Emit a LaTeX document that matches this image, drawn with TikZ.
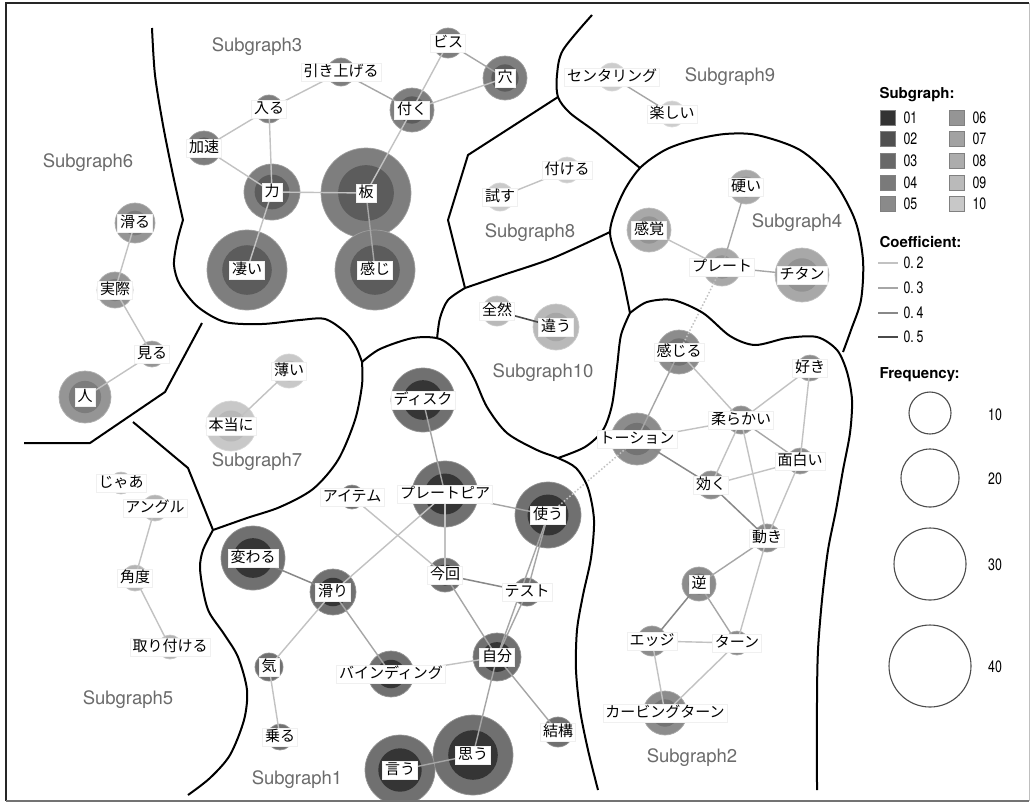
\documentclass[tikz,border=0pt]{standalone}
\usepackage{fontspec}
\newfontfamily\jp{Noto Sans CJK JP}
\newfontfamily\hv{TeX Gyre Heros}
\newfontfamily\hvn[FakeStretch=0.75]{TeX Gyre Heros}
\pgfdeclarelayer{bgl}
\pgfdeclarelayer{circ}
\pgfdeclarelayer{edgelayer}
\pgfsetlayers{bgl,circ,edgelayer,main}
\definecolor{aO}{HTML}{707070}\definecolor{aI}{HTML}{353535}
\definecolor{bO}{HTML}{8C8C8C}\definecolor{bI}{HTML}{737373}
\definecolor{cO}{HTML}{7E7E7E}\definecolor{cI}{HTML}{5C5C5C}
\definecolor{dO}{HTML}{A8A8A8}\definecolor{dI}{HTML}{939393}
\definecolor{eO}{HTML}{B4B4B4}\definecolor{eI}{HTML}{A5A5A5}
\definecolor{fO}{HTML}{959595}\definecolor{fI}{HTML}{7C7C7C}
\definecolor{gO}{HTML}{C8C8C8}\definecolor{gI}{HTML}{B8B8B8}
\definecolor{hO}{HTML}{CACACA}\definecolor{hI}{HTML}{BDBDBD}
\definecolor{iO}{HTML}{CDCDCD}\definecolor{iI}{HTML}{C0C0C0}
\definecolor{jO}{HTML}{B9B9B9}\definecolor{jI}{HTML}{A6A6A6}
\definecolor{sgtext}{HTML}{6B6B6B}
\definecolor{L1}{HTML}{333333}\definecolor{L2}{HTML}{505050}
\definecolor{L3}{HTML}{686868}\definecolor{L4}{HTML}{7A7A7A}
\definecolor{L5}{HTML}{8A8A8A}\definecolor{L6}{HTML}{959595}
\definecolor{L7}{HTML}{A2A2A2}\definecolor{L8}{HTML}{ACACAC}
\definecolor{L9}{HTML}{BABABA}\definecolor{L10}{HTML}{C8C8C8}
\definecolor{E2}{HTML}{C2C2C2}\definecolor{E3}{HTML}{A6A6A6}
\definecolor{E4}{HTML}{888888}\definecolor{E5}{HTML}{4A4A4A}
\tikzset{
  lab/.style={fill=white, draw=gray!12, line width=0.4pt, inner xsep=2.5pt, inner ysep=2pt,
    font=\jp\fontsize{15}{15}\selectfont, text height=11.5pt, text depth=2.5pt},
  sg/.style={font=\hv\fontsize{18.5}{18.5}\selectfont, text=sgtext},
  bd/.style={line width=2pt, black, line join=round},
  e2/.style={draw=E2, line width=1.4pt},
  e3/.style={draw=E3, line width=1.4pt},
  e4/.style={draw=E4, line width=1.5pt},
  e5/.style={draw=E5, line width=1.6pt},
  dot/.style={draw=E2, line width=1.5pt, dotted},
  hdr/.style={font=\hv\bfseries\fontsize{15}{15}\selectfont, anchor=west},
  num/.style={font=\hvn\fontsize{16.5}{16.5}\selectfont, anchor=west},
  sq/.style={draw=gray, line width=0.6pt, minimum size=15pt, inner sep=0pt},
  fq/.style={circle, draw=black!70, line width=1.1pt, fill=white, inner sep=0pt}
}
\newcommand\wn[6]{%
  \begin{pgfonlayer}{circ}
  \begin{scope}
    \clip (6,3) rectangle (1029,799);
    \node[circle, inner sep=0pt, minimum size={2*#4pt}, fill=#5O, draw=#5O!75!white, line width=0.7pt] (#1) at (#2,#3) {};
    \fill[#5I] (#1.center) circle[radius={0.62*#4pt}];
  \end{scope}
  \end{pgfonlayer}
  \node[lab] (#1l) at (#2,#3) {#6};}
\newcommand\ed[3]{\begin{pgfonlayer}{edgelayer}\draw[#1] (#2.center) -- (#3.center);\end{pgfonlayer}}
\begin{document}
\begin{tikzpicture}[x=1pt,y=-1pt]
\useasboundingbox (0,0) rectangle (1032,804);
\begin{pgfonlayer}{bgl}
\fill[white] (0,0) rectangle (1032,804);
\end{pgfonlayer}
% ---------- boundaries ----------
\draw[bd] plot[smooth, tension=0.5] coordinates {(152,28) (155,75) (163,125) (173,175) (183,220)};
\draw[bd] plot[smooth, tension=0.5] coordinates {(183,220) (177,242) (174,265) (180,285) (198,307) (225,322) (262,324) (300,320) (325,319) (345,332) (356,347) (362,362)};
\draw[bd] (202,323) -- (165,392) -- (90,443) -- (24,443);
\draw[bd] (133,422) -- (188,468) -- (213,530);
\draw[bd] plot[smooth, tension=0.5] coordinates {(362,362) (362,385) (355,420) (338,460) (313,489) (280,507) (247,518) (213,530)};
\draw[bd] plot[smooth, tension=0.5] coordinates {(213,530) (203,550) (200,567) (203,590) (209,612) (224,634) (238,657) (247,690) (244,720) (230,755) (210,778) (188,795)};
\draw[bd] plot[smooth, tension=0.5] coordinates {(362,362) (380,349) (413,338) (440,339) (460,355) (474,378) (487,407) (507,433) (537,450) (558,458) (576,468) (588,488) (594,520) (591,558) (583,595) (577,630) (576,670) (580,710) (588,750) (598,790)};
\draw[bd] plot[smooth, tension=0.5] coordinates {(558,458) (585,447) (603,430) (612,405) (617,367) (621,335) (630,313)};
\draw[bd] plot[smooth, tension=0.5] coordinates {(630,313) (647,302) (673,300) (703,313) (730,336) (755,345) (787,338) (817,337) (837,350) (847,372) (852,400) (850,433) (843,470) (836,510) (828,550) (822,600) (818,650) (817,700) (817,790)};
\draw[bd] plot[smooth, tension=0.5] coordinates {(630,313) (621,270) (610,232) (622,195) (640,168) (665,150) (693,140) (725,134) (757,135) (800,150) (833,180) (855,220) (863,260) (861,300) (851,330) (843,352)};
\draw[bd] plot[smooth, tension=0.5] coordinates {(465,288) (503,275) (553,258) (610,232)};
\draw[bd] (558,97) -- (468,155) -- (448,220) -- (465,288);
\draw[bd] plot[smooth, tension=0.5] coordinates {(465,288) (448,300) (440,318) (437,339)};
\draw[bd] plot[smooth, tension=0.5] coordinates {(592,15) (563,50) (557,75) (558,97) (570,113) (597,133) (640,168)};
% ---------- subgraph labels ----------
\node[sg] (sg3) at (257,47) {Subgraph3};
\node[sg] (sg6) at (88,163) {Subgraph6};
\node[sg] (sg9) at (730,77) {Subgraph9};
\node[sg] (sg8) at (530,233) {Subgraph8};
\node[sg] (sg4) at (797,223) {Subgraph4};
\node[sg] (sg10) at (543,373) {Subgraph10};
\node[sg] (sg7) at (257,462) {Subgraph7};
\node[sg] (sg5) at (128,700) {Subgraph5};
\node[sg] (sg1) at (297,780) {Subgraph1};
\node[sg] (sg2) at (692,758) {Subgraph2};
% ---------- subgraph 1 ----------
\wn{disk}{423}{400}{32}{a}{ディスク}
\wn{ppia}{445}{494}{33}{a}{プレートピア}
\wn{tsukau}{548}{515}{33}{a}{使う}
\wn{kawaru}{253}{558}{32}{a}{変わる}
\wn{suberi}{333}{592}{23}{a}{滑り}
\wn{konkai}{445}{575}{17}{a}{今回}
\wn{test}{527}{592}{14}{a}{テスト}
\wn{item}{352}{497}{12}{a}{アイテム}
\wn{jibun}{497}{657}{24}{a}{自分}
\wn{bind}{391}{674}{23}{a}{バインディング}
\wn{ki}{269}{667}{14}{a}{気}
\wn{noru}{280}{737}{13}{a}{乗る}
\wn{omou}{473}{755}{40}{a}{思う}
\wn{iu}{400}{770}{35}{a}{言う}
\wn{kekko}{558}{732}{15}{a}{結構}
% ---------- subgraph 2 ----------
\wn{kanjiru}{679}{352}{22}{b}{感じる}
\wn{torsion}{637}{439}{26}{b}{トーション}
\wn{yawa}{741}{420}{14}{b}{柔らかい}
\wn{suki}{810}{368}{13}{b}{好き}
\wn{omoshiroi}{800}{461}{13}{b}{面白い}
\wn{kiku}{711}{485}{14}{b}{効く}
\wn{ugoki}{767}{538}{14}{b}{動き}
\wn{gyaku}{699}{584}{17}{b}{逆}
\wn{edj}{652}{641}{15}{b}{エッジ}
\wn{turn}{737}{643}{12}{b}{ターン}
\wn{carving}{665}{713}{22}{b}{カービングターン}
% ---------- subgraph 3 ----------
\wn{chikara}{272}{192}{28}{c}{力}
\wn{ita}{366}{193}{45}{c}{板}
\wn{sugoi}{247}{270}{40}{c}{凄い}
\wn{kanji}{375}{270}{40}{c}{感じ}
\wn{kasoku}{204}{148}{17}{c}{加速}
\wn{hairu}{269}{109}{14}{c}{入る}
\wn{hiki}{341}{72}{14}{c}{引き上げる}
\wn{tsuku}{412}{110}{22}{c}{付く}
\wn{bisu}{448}{43}{15}{c}{ビス}
\wn{ana}{505}{78}{22}{c}{穴}
% ---------- subgraph 4 ----------
\wn{katai}{746}{187}{17}{d}{硬い}
\wn{kankaku}{649}{230}{22}{d}{感覚}
\wn{plate}{722}{267}{19}{d}{プレート}
\wn{titan}{802}{275}{27}{d}{チタン}
% ---------- subgraph 5 ----------
\wn{jaa}{121}{483}{11}{e}{じゃあ}
\wn{angle}{155}{508}{13}{e}{アングル}
\wn{kakudo}{135}{578}{13}{e}{角度}
\wn{toritsu}{170}{647}{12}{e}{取り付ける}
% ---------- subgraph 6 ----------
\wn{suberu}{135}{223}{20}{f}{滑る}
\wn{jissai}{115}{290}{18}{f}{実際}
\wn{miru}{152}{354}{13}{f}{見る}
\wn{hito}{85}{397}{26}{f}{人}
% ---------- subgraph 7 ----------
\wn{usui}{289}{371}{17}{g}{薄い}
\wn{hontou}{231}{426}{25}{g}{本当に}
% ---------- subgraph 8, 9, 10 ----------
\wn{tamesu}{500}{197}{14}{h}{試す}
\wn{tsukeru}{567}{170}{13}{h}{付ける}
\wn{center}{612}{77}{14}{i}{センタリング}
\wn{tanoshii}{672}{114}{13}{i}{楽しい}
\wn{zenzen}{497}{311}{15}{j}{全然}
\wn{chigau}{556}{327}{23}{j}{違う}
% ---------- edges ----------
\ed{e2}{kasoku}{hairu}
\ed{e2}{hairu}{hiki}
\ed{e2}{hairu}{chikara}
\ed{e2}{kasoku}{chikara}
\ed{e2}{chikara}{ita}
\ed{e2}{chikara}{sugoi}
\ed{e3}{ita}{kanji}
\ed{e3}{hiki}{tsuku}
\ed{e2}{tsuku}{bisu}
\ed{e3}{bisu}{ana}
\ed{e2}{tsuku}{ana}
\ed{e2}{tsuku}{ita}
\ed{e2}{suberu}{jissai}
\ed{e2}{jissai}{miru}
\ed{e2}{miru}{hito}
\ed{e2}{hontou}{usui}
\ed{e2}{angle}{kakudo}
\ed{e2}{kakudo}{toritsu}
\ed{e2}{tamesu}{tsukeru}
\ed{e3}{center}{tanoshii}
\ed{e5}{zenzen}{chigau}
\ed{e3}{katai}{plate}
\ed{e2}{kankaku}{plate}
\ed{e3}{plate}{titan}
\ed{dot}{plate}{kanjiru}
\ed{e3}{disk}{ppia}
\ed{e2}{ppia}{konkai}
\ed{e3}{ppia}{tsukau}
\ed{e2}{ppia}{suberi}
\ed{e2}{item}{konkai}
\ed{e4}{konkai}{test}
\ed{e3}{konkai}{jibun}
\ed{e3}{tsukau}{test}
\ed{e3}{tsukau}{jibun}
\ed{e3}{test}{jibun}
\ed{e4}{kawaru}{suberi}
\ed{e2}{suberi}{ki}
\ed{e3}{suberi}{bind}
\ed{e2}{ki}{noru}
\ed{e2}{bind}{jibun}
\ed{e3}{jibun}{omou}
\ed{e3}{jibun}{kekko}
\ed{e3}{omou}{iu}
\ed{dot}{tsukau}{torsion}
\ed{e3}{kanjiru}{torsion}
\ed{e2}{kanjiru}{yawa}
\ed{e2}{torsion}{yawa}
\ed{e4}{torsion}{kiku}
\ed{e2}{yawa}{suki}
\ed{e3}{yawa}{omoshiroi}
\ed{e2}{yawa}{kiku}
\ed{e2}{yawa}{ugoki}
\ed{e2}{suki}{omoshiroi}
\ed{e2}{omoshiroi}{kiku}
\ed{e2}{omoshiroi}{ugoki}
\ed{e4}{kiku}{ugoki}
\ed{e3}{ugoki}{gyaku}
\ed{e2}{ugoki}{turn}
\ed{e4}{gyaku}{edj}
\ed{e3}{gyaku}{turn}
\ed{e2}{edj}{turn}
\ed{e2}{edj}{carving}
\ed{e2}{turn}{carving}
% ---------- legend ----------
\node[hdr] (lsg) at (876,95) {Subgraph:};
\foreach \i/\y in {1/117.5,2/139,3/160.5,4/182.5,5/204}{
  \node[sq, fill=L\i] (sqa\i) at (887.5,\y) {};
  \node[num] (sqat\i) at (900,\y) {0\i};
}
\foreach \i/\y in {6/117.5,7/139,8/160.5,9/182.5}{
  \node[sq, fill=L\i] (sqb\i) at (957,\y) {};
  \node[num] (sqbt\i) at (969,\y) {0\i};
}
\node[sq, fill=L10] (sqb10) at (957,204) {};
\node[num] (sqbt10) at (969,204) {10};
\node[hdr] (lco) at (876,242) {Coefficient:};
\foreach \c/\t/\y in {E2/2/263,E3/3/288,E4/4/313,E5/5/337}{
  \coordinate (ca\t) at (878,\y);
  \coordinate (cb\t) at (898,\y);
  \draw[draw=\c, line width=1.5pt] (ca\t) -- (cb\t);
  \node[num] (ct\t) at (900,\y) {0.\,\t};
}
\node[hdr] (lfr) at (876,375) {Frequency:};
\node[fq, minimum size=42pt] (f10) at (930,413) {};
\node[fq, minimum size=58pt] (f20) at (930,478) {};
\node[fq, minimum size=72pt] (f30) at (930,564) {};
\node[fq, minimum size=82pt] (f40) at (930,666) {};
\node[num, anchor=center] (f10t) at (995,415) {10};
\node[num, anchor=center] (f20t) at (995,479) {20};
\node[num, anchor=center] (f30t) at (995,565) {30};
\node[num, anchor=center] (f40t) at (995,667) {40};
% ---------- frame ----------
\draw[line width=2pt, black!85] (6,801) -- (6,3) -- (1029,3);
\draw[line width=2pt, black!55] (6,801) -- (1029,801);
\draw[line width=1pt, black!25] (1029,3) -- (1029,801);
\end{tikzpicture}
\end{document}
